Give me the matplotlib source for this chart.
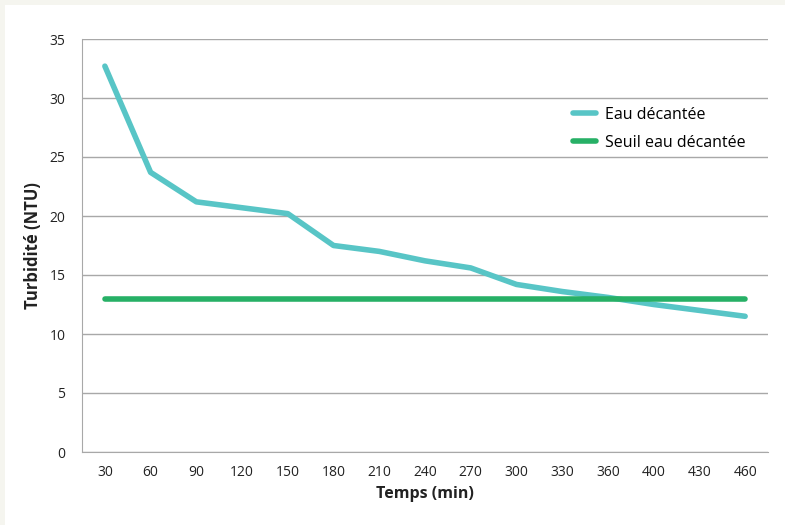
import matplotlib.pyplot as plt
from matplotlib.patches import Rectangle

temps = ['30', '60', '90', '120', '150', '180', '210', '240', '270', '300',
         '330', '360', '400', '430', '460']
eau_decantee = [32.7, 23.7, 21.2, 20.7, 20.2, 17.5, 17.0, 16.2, 15.6, 14.2,
                13.6, 13.1, 12.5, 12.0, 11.5]
seuil = [13.0] * len(temps)

teal = '#58c5c6'
green = '#27b066'
grid_col = '#a8a8a8'

plt.rcParams['font.family'] = ['Open Sans', 'DejaVu Sans']

fig = plt.figure(figsize=(7.85, 5.25), dpi=100, facecolor='#f5f5ef')
# white panel, leaving a thin off-white border on the left and top
fig.patches.append(Rectangle((5 / 785, 0), 1, 520 / 525, transform=fig.transFigure,
                             facecolor='white', edgecolor='none', zorder=-5))
ax = fig.add_axes([82 / 785, 1 - 452 / 525, (768 - 82) / 785, (452 - 39) / 525])
ax.set_facecolor('white')

x = list(range(len(temps)))
ax.plot(x, eau_decantee, color=teal, lw=4, solid_capstyle='round',
        solid_joinstyle='round', label='Eau décantée', zorder=3)
ax.plot(x, seuil, color=green, lw=4, solid_capstyle='round',
        label='Seuil eau décantée', zorder=3)

ax.set_xlim(-0.5, len(temps) - 0.5)
ax.set_ylim(0, 35)
ax.set_yticks(range(0, 36, 5))
ax.set_xticks(x)
ax.set_xticklabels(temps)
ax.grid(axis='y', color=grid_col, lw=1)
ax.set_axisbelow(True)
for s in ['top', 'right']:
    ax.spines[s].set_visible(False)
ax.spines['left'].set_color(grid_col)
ax.spines['bottom'].set_color(grid_col)
ax.tick_params(length=0, labelsize=10, colors='#222222', pad=9)
ax.tick_params(axis='y', pad=12)

ax.set_xlabel('Temps (min)', fontsize=11.5, fontweight='bold', color='#222222', labelpad=5)
ax.set_ylabel('Turbidité (NTU)', fontsize=12, fontweight='bold', color='#222222', labelpad=5)

leg = ax.legend(loc='upper left', bbox_to_anchor=(0.695, 0.87), frameon=False,
                fontsize=11.5, handlelength=1.4, handletextpad=0.6, labelspacing=0.75)
for h in leg.get_lines():
    h.set_linewidth(4)

fig.savefig('out.png', dpi=100, facecolor=fig.get_facecolor())
